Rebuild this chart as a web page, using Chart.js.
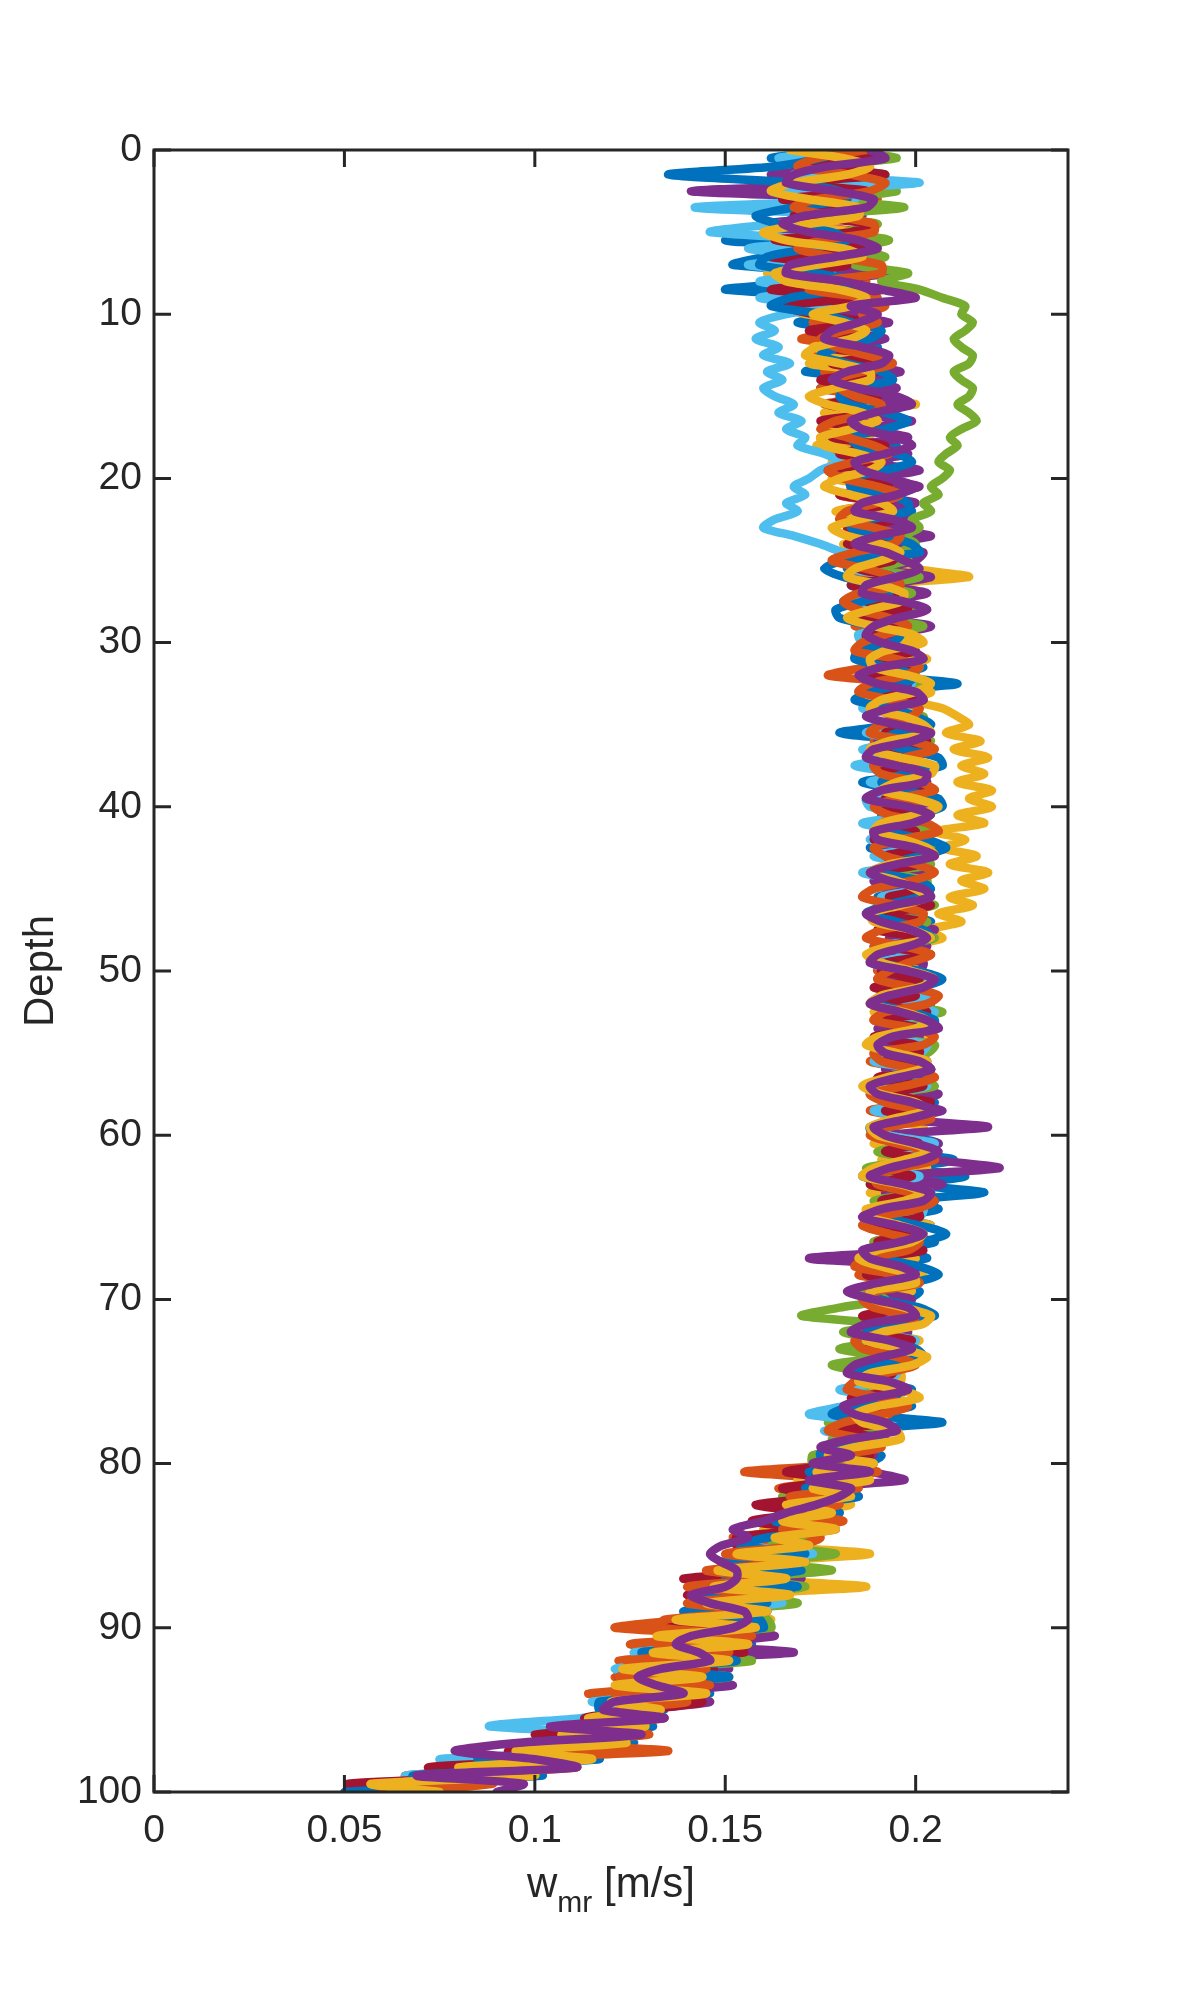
<!DOCTYPE html>
<html>
<head>
<meta charset="utf-8">
<script src="https://cdn.jsdelivr.net/npm/chart.js@4.4.1/dist/chart.umd.min.js"></script>
<style>
  html, body { margin: 0; padding: 0; background: #ffffff; }
  #wrap { width: 1181px; height: 2013px; }
</style>
</head>
<body>
<div id="wrap"><canvas id="myChart" width="1181" height="2013"></canvas></div>
<script>
// depth grid (index axis), 0 at the surface
var depth = [
  0,0.5,1,1.5,2,2.5,3,3.5,4,4.5,
  5,5.5,6,6.5,7,7.5,8,8.5,9,9.5,
  10,10.5,11,11.5,12,12.5,13,13.5,14,14.5,
  15,15.5,16,16.5,17,17.5,18,18.5,19,19.5,
  20,20.5,21,21.5,22,22.5,23,23.5,24,24.5,
  25,25.5,26,26.5,27,27.5,28,28.5,29,29.5,
  30,30.5,31,31.5,32,32.5,33,33.5,34,34.5,
  35,35.5,36,36.5,37,37.5,38,38.5,39,39.5,
  40,40.5,41,41.5,42,42.5,43,43.5,44,44.5,
  45,45.5,46,46.5,47,47.5,48,48.5,49,49.5,
  50,50.5,51,51.5,52,52.5,53,53.5,54,54.5,
  55,55.5,56,56.5,57,57.5,58,58.5,59,59.5,
  60,60.5,61,61.5,62,62.5,63,63.5,64,64.5,
  65,65.5,66,66.5,67,67.5,68,68.5,69,69.5,
  70,70.5,71,71.5,72,72.5,73,73.5,74,74.5,
  75,75.5,76,76.5,77,77.5,78,78.5,79,79.5,
  80,80.5,81,81.5,82,82.5,83,83.5,84,84.5,
  85,85.5,86,86.5,87,87.5,88,88.5,89,89.5,
  90,90.5,91,91.5,92,92.5,93,93.5,94,94.5,
  95,95.5,96,96.5,97,97.5,98,98.5,99,99.5,
  100
];

// w_mr [m/s] for each run
var wBlue1 = [
  0.181,0.162,0.187,0.166,0.185,0.158,0.182,0.162,0.185,0.159,
  0.177,0.150,0.180,0.161,0.152,0.181,0.172,0.150,0.184,0.163,
  0.185,0.169,0.184,0.172,0.190,0.175,0.184,0.171,0.191,0.175,
  0.192,0.180,0.191,0.176,0.191,0.180,0.195,0.184,0.193,0.179,
  0.195,0.183,0.193,0.186,0.199,0.185,0.195,0.184,0.198,0.188,
  0.190,0.182,0.194,0.183,0.190,0.181,0.193,0.184,0.196,0.186,
  0.187,0.199,0.191,0.202,0.192,0.211,0.192,0.201,0.189,0.200,
  0.194,0.180,0.197,0.187,0.199,0.188,0.198,0.186,0.197,0.188,
  0.200,0.191,0.202,0.190,0.198,0.188,0.199,0.192,0.203,0.190,
  0.201,0.190,0.202,0.194,0.204,0.192,0.200,0.189,0.202,0.193,
  0.194,0.203,0.192,0.204,0.196,0.206,0.195,0.204,0.192,0.202,
  0.202,0.193,0.204,0.190,0.201,0.192,0.205,0.194,0.201,0.190,
  0.197,0.206,0.198,0.210,0.199,0.213,0.200,0.218,0.197,0.206,
  0.194,0.204,0.194,0.205,0.195,0.203,0.190,0.201,0.193,0.201,
  0.198,0.189,0.200,0.187,0.196,0.185,0.196,0.188,0.198,0.186,
  0.189,0.199,0.189,0.199,0.187,0.207,0.183,0.192,0.184,0.191,
  0.187,0.174,0.186,0.169,0.184,0.168,0.178,0.161,0.173,0.159,
  0.170,0.151,0.171,0.152,0.166,0.143,0.161,0.143,0.161,0.141,
  0.159,0.136,0.157,0.129,0.149,0.124,0.148,0.125,0.146,0.118,
  0.134,0.117,0.131,0.108,0.126,0.097,0.117,0.079,0.102,0.053,
  0.066
];
var wOrange1 = [
  0.190,0.168,0.186,0.169,0.193,0.171,0.190,0.164,0.184,0.167,
  0.185,0.165,0.188,0.168,0.184,0.163,0.187,0.173,0.190,0.169,
  0.188,0.173,0.186,0.170,0.185,0.173,0.191,0.176,0.191,0.175,
  0.187,0.176,0.190,0.177,0.192,0.175,0.188,0.178,0.192,0.181,
  0.181,0.193,0.180,0.190,0.180,0.193,0.184,0.195,0.182,0.192,
  0.184,0.194,0.183,0.195,0.186,0.198,0.186,0.194,0.184,0.197,
  0.193,0.185,0.195,0.187,0.177,0.197,0.186,0.198,0.187,0.196,
  0.190,0.200,0.189,0.201,0.192,0.203,0.192,0.201,0.194,0.202,
  0.194,0.203,0.191,0.202,0.193,0.206,0.195,0.203,0.191,0.202,
  0.201,0.191,0.200,0.189,0.203,0.192,0.201,0.189,0.200,0.191,
  0.190,0.201,0.192,0.204,0.193,0.202,0.189,0.201,0.192,0.204,
  0.200,0.188,0.199,0.190,0.203,0.191,0.200,0.188,0.199,0.190,
  0.192,0.204,0.193,0.202,0.190,0.200,0.191,0.204,0.192,0.201,
  0.200,0.188,0.198,0.189,0.201,0.190,0.198,0.185,0.197,0.187,
  0.189,0.199,0.187,0.197,0.189,0.200,0.187,0.197,0.185,0.195,
  0.193,0.183,0.195,0.184,0.193,0.179,0.191,0.180,0.190,0.173,
  0.182,0.155,0.181,0.164,0.178,0.163,0.175,0.158,0.170,0.152,
  0.171,0.152,0.170,0.147,0.163,0.142,0.162,0.142,0.160,0.140,
  0.121,0.153,0.125,0.151,0.122,0.146,0.121,0.144,0.114,0.138,
  0.122,0.130,0.110,0.126,0.101,0.135,0.090,0.106,0.066,0.084,
  0.055
];
var wYellow1 = [
  0.187,0.165,0.188,0.167,0.184,0.161,0.187,0.163,0.184,0.165,
  0.183,0.163,0.182,0.162,0.184,0.161,0.181,0.166,0.186,0.165,
  0.171,0.187,0.174,0.189,0.173,0.185,0.172,0.188,0.177,0.191,
  0.188,0.200,0.176,0.189,0.176,0.188,0.174,0.192,0.178,0.189,
  0.178,0.191,0.181,0.192,0.179,0.190,0.183,0.195,0.181,0.191,
  0.188,0.199,0.214,0.190,0.199,0.188,0.199,0.190,0.202,0.192,
  0.200,0.191,0.203,0.191,0.200,0.189,0.204,0.199,0.207,0.211,
  0.214,0.208,0.217,0.210,0.219,0.212,0.218,0.211,0.220,0.214,
  0.220,0.211,0.218,0.205,0.213,0.207,0.216,0.209,0.219,0.212,
  0.218,0.209,0.215,0.206,0.212,0.203,0.207,0.198,0.204,0.195,
  0.201,0.192,0.203,0.191,0.200,0.189,0.201,0.193,0.203,0.191,
  0.192,0.202,0.193,0.204,0.190,0.201,0.192,0.204,0.193,0.202,
  0.201,0.189,0.200,0.191,0.203,0.191,0.200,0.188,0.199,0.190,
  0.192,0.204,0.192,0.201,0.189,0.200,0.190,0.202,0.191,0.199,
  0.191,0.200,0.188,0.198,0.189,0.201,0.189,0.198,0.186,0.196,
  0.196,0.186,0.196,0.183,0.192,0.180,0.192,0.181,0.191,0.176,
  0.174,0.187,0.169,0.182,0.168,0.183,0.167,0.178,0.160,0.174,
  0.165,0.188,0.160,0.172,0.157,0.187,0.153,0.166,0.149,0.162,
  0.137,0.159,0.136,0.157,0.130,0.149,0.124,0.148,0.125,0.146,
  0.120,0.131,0.111,0.126,0.102,0.120,0.089,0.108,0.071,0.087,
  0.068
];
var wPurple1 = [
  0.189,0.165,0.186,0.162,0.191,0.141,0.187,0.163,0.186,0.160,
  0.167,0.187,0.166,0.190,0.170,0.193,0.173,0.192,0.170,0.191,
  0.177,0.193,0.180,0.192,0.177,0.191,0.180,0.196,0.183,0.195,
  0.184,0.197,0.183,0.199,0.187,0.198,0.184,0.198,0.187,0.201,
  0.189,0.201,0.188,0.200,0.188,0.199,0.189,0.204,0.192,0.202,
  0.200,0.191,0.204,0.192,0.203,0.190,0.201,0.192,0.204,0.194,
  0.188,0.197,0.187,0.199,0.190,0.201,0.190,0.199,0.188,0.200,
  0.192,0.202,0.190,0.201,0.192,0.204,0.194,0.203,0.191,0.202,
  0.203,0.192,0.201,0.189,0.200,0.191,0.204,0.192,0.201,0.189,
  0.193,0.203,0.191,0.202,0.194,0.205,0.193,0.203,0.191,0.202,
  0.201,0.190,0.202,0.192,0.204,0.193,0.202,0.190,0.201,0.192,
  0.194,0.203,0.192,0.204,0.195,0.206,0.194,0.207,0.196,0.219,
  0.193,0.206,0.194,0.205,0.222,0.195,0.207,0.192,0.205,0.193,
  0.201,0.191,0.202,0.191,0.199,0.172,0.201,0.189,0.199,0.188,
  0.199,0.189,0.201,0.189,0.198,0.186,0.197,0.188,0.199,0.186,
  0.184,0.196,0.185,0.196,0.182,0.191,0.179,0.191,0.180,0.189,
  0.175,0.188,0.197,0.173,0.185,0.168,0.180,0.167,0.179,0.161,
  0.172,0.153,0.171,0.152,0.170,0.147,0.163,0.141,0.161,0.141,
  0.139,0.163,0.138,0.168,0.130,0.151,0.128,0.152,0.127,0.146,
  0.129,0.118,0.127,0.104,0.121,0.101,0.110,0.086,0.096,0.062,
  0.074
];
var wGreen = [
  0.179,0.195,0.174,0.192,0.176,0.195,0.177,0.197,0.174,0.190,
  0.182,0.193,0.181,0.192,0.184,0.198,0.191,0.201,0.207,0.213,
  0.212,0.215,0.213,0.210,0.212,0.215,0.214,0.210,0.212,0.215,
  0.214,0.211,0.214,0.216,0.212,0.209,0.211,0.208,0.206,0.209,
  0.207,0.204,0.206,0.202,0.204,0.199,0.201,0.197,0.200,0.196,
  0.198,0.189,0.201,0.190,0.199,0.188,0.200,0.191,0.202,0.191,
  0.190,0.199,0.189,0.201,0.192,0.203,0.192,0.201,0.190,0.202,
  0.201,0.193,0.204,0.192,0.201,0.190,0.203,0.194,0.205,0.193,
  0.194,0.204,0.192,0.203,0.194,0.206,0.195,0.204,0.192,0.203,
  0.202,0.193,0.205,0.191,0.203,0.194,0.205,0.193,0.202,0.191,
  0.195,0.204,0.193,0.205,0.196,0.207,0.195,0.204,0.193,0.205,
  0.203,0.191,0.202,0.193,0.205,0.194,0.203,0.191,0.202,0.193,
  0.189,0.201,0.190,0.199,0.187,0.197,0.188,0.200,0.189,0.198,
  0.199,0.189,0.200,0.189,0.198,0.186,0.196,0.187,0.199,0.186,
  0.192,0.180,0.170,0.191,0.181,0.193,0.180,0.190,0.178,0.189,
  0.193,0.181,0.193,0.182,0.191,0.177,0.189,0.178,0.188,0.173,
  0.173,0.188,0.172,0.183,0.165,0.178,0.164,0.179,0.163,0.173,
  0.162,0.179,0.161,0.178,0.154,0.171,0.151,0.169,0.149,0.161,
  0.162,0.134,0.155,0.132,0.157,0.132,0.151,0.123,0.144,0.121,
  0.120,0.131,0.112,0.127,0.102,0.121,0.089,0.108,0.070,0.085,
  0.052
];
var wLightBlue = [
  0.186,0.164,0.187,0.168,0.201,0.164,0.184,0.142,0.185,0.164,
  0.146,0.176,0.156,0.176,0.156,0.178,0.159,0.177,0.159,0.177,
  0.166,0.159,0.163,0.158,0.164,0.160,0.167,0.161,0.165,0.160,
  0.163,0.168,0.164,0.170,0.166,0.171,0.169,0.176,0.180,0.175,
  0.172,0.168,0.171,0.166,0.169,0.163,0.160,0.168,0.175,0.181,
  0.192,0.183,0.195,0.184,0.193,0.182,0.194,0.185,0.196,0.185,
  0.186,0.195,0.185,0.197,0.188,0.199,0.188,0.197,0.186,0.198,
  0.195,0.187,0.198,0.186,0.195,0.184,0.197,0.188,0.199,0.187,
  0.188,0.198,0.186,0.197,0.188,0.200,0.189,0.198,0.186,0.197,
  0.200,0.191,0.203,0.189,0.201,0.192,0.203,0.191,0.200,0.189,
  0.193,0.202,0.191,0.203,0.194,0.205,0.193,0.202,0.191,0.203,
  0.201,0.189,0.200,0.191,0.203,0.192,0.201,0.189,0.200,0.191,
  0.193,0.205,0.194,0.203,0.191,0.201,0.192,0.204,0.193,0.202,
  0.201,0.191,0.202,0.191,0.200,0.188,0.198,0.189,0.201,0.188,
  0.189,0.199,0.187,0.197,0.188,0.200,0.188,0.197,0.185,0.195,
  0.192,0.180,0.192,0.181,0.172,0.190,0.176,0.188,0.176,0.184,
  0.185,0.168,0.180,0.167,0.181,0.166,0.176,0.159,0.171,0.157,
  0.156,0.173,0.151,0.168,0.146,0.167,0.147,0.165,0.141,0.157,
  0.156,0.133,0.154,0.126,0.146,0.121,0.145,0.122,0.143,0.115,
  0.131,0.112,0.088,0.124,0.098,0.117,0.075,0.104,0.066,0.085,
  0.055
];
var wDarkRed = [
  0.171,0.191,0.172,0.192,0.168,0.187,0.165,0.185,0.168,0.188,
  0.183,0.163,0.186,0.162,0.182,0.167,0.185,0.162,0.184,0.165,
  0.173,0.187,0.172,0.186,0.175,0.191,0.178,0.190,0.175,0.189,
  0.190,0.177,0.189,0.175,0.189,0.178,0.192,0.180,0.191,0.177,
  0.182,0.193,0.180,0.193,0.184,0.195,0.182,0.193,0.182,0.195,
  0.194,0.185,0.194,0.183,0.195,0.187,0.198,0.186,0.195,0.187,
  0.188,0.200,0.190,0.199,0.187,0.198,0.190,0.202,0.191,0.200,
  0.200,0.192,0.203,0.191,0.200,0.189,0.202,0.193,0.204,0.192,
  0.192,0.203,0.191,0.200,0.189,0.201,0.192,0.201,0.189,0.200,
  0.202,0.193,0.204,0.192,0.201,0.190,0.202,0.193,0.204,0.192,
  0.191,0.201,0.189,0.200,0.191,0.203,0.192,0.201,0.189,0.200,
  0.201,0.192,0.204,0.190,0.202,0.193,0.204,0.192,0.201,0.190,
  0.191,0.201,0.192,0.203,0.191,0.199,0.188,0.200,0.191,0.200,
  0.201,0.189,0.199,0.190,0.202,0.191,0.199,0.187,0.198,0.188,
  0.188,0.198,0.186,0.196,0.187,0.199,0.187,0.196,0.184,0.194,
  0.186,0.197,0.183,0.195,0.181,0.191,0.180,0.192,0.180,0.188,
  0.181,0.166,0.180,0.165,0.175,0.158,0.170,0.157,0.171,0.153,
  0.153,0.170,0.152,0.169,0.139,0.162,0.140,0.160,0.140,0.158,
  0.135,0.157,0.134,0.155,0.128,0.147,0.122,0.146,0.123,0.144,
  0.128,0.113,0.124,0.100,0.119,0.093,0.106,0.072,0.095,0.051,
  0.058
];
var wBlue2 = [
  0.181,0.175,0.163,0.135,0.168,0.180,0.182,0.168,0.158,0.164,
  0.178,0.182,0.172,0.161,0.159,0.174,0.183,0.180,0.167,0.162,
  0.176,0.183,0.191,0.188,0.180,0.175,0.182,0.191,0.194,0.184,
  0.180,0.183,0.192,0.198,0.192,0.183,0.185,0.195,0.199,0.192,
  0.183,0.183,0.193,0.198,0.198,0.188,0.183,0.192,0.199,0.201,
  0.181,0.176,0.181,0.190,0.193,0.186,0.179,0.180,0.189,0.196,
  0.194,0.185,0.184,0.193,0.200,0.197,0.188,0.184,0.194,0.200,
  0.204,0.195,0.191,0.197,0.206,0.207,0.197,0.191,0.197,0.206,
  0.207,0.200,0.192,0.193,0.203,0.208,0.201,0.193,0.191,0.201,
  0.204,0.201,0.192,0.187,0.195,0.202,0.204,0.194,0.188,0.191,
  0.201,0.207,0.201,0.192,0.190,0.199,0.205,0.204,0.194,0.189,
  0.193,0.201,0.204,0.195,0.187,0.190,0.199,0.204,0.197,0.188,
  0.189,0.198,0.204,0.201,0.191,0.186,0.196,0.203,0.199,0.189,
  0.192,0.201,0.208,0.202,0.193,0.192,0.201,0.206,0.199,0.189,
  0.191,0.201,0.205,0.194,0.187,0.191,0.200,0.202,0.191,0.184,
  0.189,0.196,0.194,0.183,0.178,0.188,0.193,0.188,0.176,0.175,
  0.189,0.172,0.184,0.171,0.185,0.170,0.180,0.163,0.175,0.161,
  0.154,0.171,0.149,0.170,0.150,0.169,0.145,0.161,0.139,0.159,
  0.160,0.134,0.153,0.128,0.153,0.130,0.151,0.123,0.142,0.117,
  0.117,0.129,0.109,0.124,0.099,0.118,0.085,0.106,0.068,0.084,
  0.050
];
var wOrange2 = [
  0.187,0.174,0.169,0.183,0.192,0.188,0.174,0.168,0.178,0.189,
  0.189,0.175,0.169,0.178,0.191,0.191,0.175,0.172,0.187,0.192,
  0.186,0.190,0.181,0.175,0.179,0.187,0.194,0.186,0.179,0.180,
  0.184,0.191,0.189,0.179,0.175,0.182,0.189,0.193,0.184,0.177,
  0.181,0.190,0.196,0.190,0.182,0.180,0.189,0.196,0.194,0.184,
  0.178,0.187,0.194,0.196,0.185,0.181,0.185,0.193,0.198,0.192,
  0.186,0.184,0.195,0.201,0.197,0.188,0.185,0.194,0.201,0.199,
  0.191,0.188,0.199,0.205,0.197,0.189,0.191,0.201,0.205,0.195,
  0.189,0.193,0.203,0.206,0.196,0.189,0.192,0.200,0.205,0.199,
  0.189,0.186,0.195,0.202,0.201,0.191,0.187,0.197,0.204,0.198,
  0.193,0.190,0.199,0.206,0.203,0.192,0.189,0.200,0.205,0.202,
  0.189,0.191,0.200,0.205,0.197,0.188,0.192,0.201,0.204,0.193,
  0.188,0.195,0.203,0.205,0.196,0.189,0.190,0.199,0.205,0.200,
  0.190,0.186,0.193,0.201,0.198,0.187,0.184,0.195,0.201,0.190,
  0.186,0.189,0.198,0.200,0.192,0.184,0.186,0.195,0.200,0.192,
  0.184,0.182,0.191,0.198,0.191,0.181,0.177,0.186,0.191,0.180,
  0.175,0.190,0.174,0.185,0.167,0.180,0.166,0.181,0.165,0.175,
  0.169,0.150,0.168,0.145,0.161,0.140,0.160,0.140,0.158,0.134,
  0.133,0.157,0.132,0.151,0.124,0.145,0.122,0.146,0.121,0.140,
  0.122,0.134,0.114,0.130,0.105,0.123,0.092,0.111,0.075,0.089,
  0.060
];
var wYellow2 = [
  0.167,0.181,0.188,0.182,0.168,0.162,0.172,0.185,0.185,0.172,
  0.160,0.166,0.181,0.186,0.174,0.163,0.166,0.180,0.187,0.183,
  0.173,0.181,0.187,0.183,0.174,0.171,0.180,0.188,0.188,0.179,
  0.172,0.177,0.186,0.190,0.183,0.175,0.176,0.185,0.191,0.188,
  0.180,0.176,0.183,0.191,0.194,0.185,0.178,0.182,0.191,0.196,
  0.191,0.184,0.182,0.191,0.197,0.196,0.188,0.182,0.189,0.199,
  0.202,0.192,0.188,0.189,0.198,0.204,0.200,0.191,0.188,0.197,
  0.202,0.204,0.193,0.188,0.196,0.205,0.204,0.195,0.191,0.200,
  0.206,0.200,0.191,0.189,0.197,0.203,0.205,0.193,0.188,0.195,
  0.200,0.203,0.196,0.188,0.189,0.199,0.204,0.193,0.187,0.191,
  0.199,0.205,0.201,0.191,0.188,0.197,0.203,0.200,0.190,0.187,
  0.195,0.203,0.201,0.192,0.186,0.191,0.200,0.203,0.194,0.188,
  0.190,0.199,0.204,0.197,0.189,0.186,0.196,0.202,0.197,0.187,
  0.188,0.196,0.202,0.199,0.190,0.185,0.191,0.199,0.200,0.188,
  0.189,0.197,0.204,0.202,0.191,0.187,0.196,0.203,0.199,0.188,
  0.185,0.196,0.201,0.190,0.184,0.186,0.195,0.196,0.184,0.177,
  0.189,0.174,0.188,0.173,0.183,0.166,0.178,0.165,0.179,0.163,
  0.172,0.153,0.171,0.148,0.166,0.147,0.167,0.145,0.161,0.137,
  0.158,0.132,0.156,0.131,0.151,0.123,0.144,0.121,0.145,0.120,
  0.133,0.114,0.129,0.107,0.124,0.095,0.115,0.080,0.100,0.057,
  0.075
];
var wPurple2 = [
  0.188,0.192,0.177,0.168,0.166,0.179,0.189,0.187,0.171,0.165,
  0.172,0.185,0.190,0.179,0.167,0.166,0.181,0.191,0.200,0.183,
  0.190,0.185,0.178,0.176,0.186,0.193,0.191,0.182,0.178,0.185,
  0.195,0.199,0.189,0.183,0.186,0.195,0.199,0.192,0.184,0.186,
  0.193,0.200,0.195,0.186,0.184,0.194,0.199,0.190,0.184,0.192,
  0.197,0.201,0.195,0.187,0.186,0.197,0.203,0.195,0.189,0.187,
  0.191,0.199,0.202,0.191,0.185,0.190,0.200,0.202,0.193,0.187,
  0.195,0.204,0.199,0.189,0.187,0.195,0.203,0.202,0.191,0.187,
  0.198,0.204,0.199,0.189,0.190,0.200,0.205,0.195,0.188,0.193,
  0.202,0.204,0.194,0.187,0.191,0.199,0.203,0.198,0.190,0.188,
  0.198,0.205,0.202,0.193,0.188,0.196,0.203,0.206,0.194,0.190,
  0.192,0.201,0.204,0.195,0.188,0.190,0.199,0.205,0.198,0.189,
  0.192,0.200,0.206,0.202,0.193,0.188,0.197,0.204,0.202,0.191,
  0.186,0.195,0.202,0.196,0.186,0.188,0.196,0.200,0.190,0.182,
  0.189,0.198,0.200,0.187,0.183,0.193,0.199,0.191,0.184,0.182,
  0.193,0.198,0.188,0.181,0.184,0.192,0.195,0.183,0.175,0.183,
  0.173,0.188,0.172,0.183,0.180,0.174,0.166,0.160,0.152,0.156,
  0.149,0.146,0.149,0.153,0.153,0.150,0.141,0.146,0.155,0.156,
  0.152,0.141,0.137,0.143,0.146,0.133,0.127,0.132,0.139,0.121,
  0.118,0.134,0.104,0.128,0.096,0.079,0.100,0.111,0.069,0.097,
  0.090
];

// plotting order (first = bottom layer) and MATLAB default colour cycle
var seriesList = [wBlue1, wOrange1, wYellow1, wPurple1, wGreen, wLightBlue, wDarkRed, wBlue2, wOrange2, wYellow2, wPurple2];
var seriesColors = ['#0072BD', '#D95319', '#EDB120', '#7E2F8E', '#77AC30', '#4DBEEE', '#A2142F', '#0072BD', '#D95319', '#EDB120', '#7E2F8E'];

var xTicks = [0, 0.05, 0.1, 0.15, 0.2];
var yTicks = [0, 10, 20, 30, 40, 50, 60, 70, 80, 90, 100];

var axisColor = '#262626';
var fontFamily = '"Liberation Sans", Arial, Helvetica, sans-serif';
Chart.defaults.font.family = fontFamily;
Chart.defaults.color = axisColor;

// box, inward ticks on all four sides, and the x label with its subscript
var matlabAxes = {
  id: 'matlabAxes',
  afterDatasetsDraw: function (chart) {
    var ctx = chart.ctx;
    var a = chart.chartArea;
    var xs = chart.scales.x;
    var ys = chart.scales.y;
    var tl = 17;
    ctx.save();
    ctx.strokeStyle = axisColor;
    ctx.lineWidth = 3;
    ctx.beginPath();
    xTicks.forEach(function (v) {
      var px = xs.getPixelForValue(v);
      ctx.moveTo(px, a.bottom); ctx.lineTo(px, a.bottom - tl);
      ctx.moveTo(px, a.top); ctx.lineTo(px, a.top + tl);
    });
    yTicks.forEach(function (v) {
      var py = ys.getPixelForValue(v);
      ctx.moveTo(a.left, py); ctx.lineTo(a.left + tl, py);
      ctx.moveTo(a.right, py); ctx.lineTo(a.right - tl, py);
    });
    ctx.stroke();
    ctx.lineJoin = 'miter';
    ctx.strokeRect(a.left, a.top, a.right - a.left, a.bottom - a.top);

    var big = '42px ' + fontFamily;
    var small = '30px ' + fontFamily;
    ctx.fillStyle = axisColor;
    ctx.textBaseline = 'alphabetic';
    ctx.textAlign = 'left';
    ctx.font = big;
    var w1 = ctx.measureText('w').width;
    var w3 = ctx.measureText(' [m/s]').width;
    ctx.font = small;
    var w2 = ctx.measureText('mr').width;
    var x0 = (a.left + a.right) / 2 - (w1 + w2 + w3) / 2;
    var base = a.bottom + 105;
    ctx.font = big;
    ctx.fillText('w', x0, base);
    ctx.font = small;
    ctx.fillText('mr', x0 + w1, base + 15);
    ctx.font = big;
    ctx.fillText(' [m/s]', x0 + w1 + w2, base);
    ctx.restore();
  }
};

// Chart.js paints lower "order" last, so the last run ends up on top
var datasets = seriesList.map(function (vals, i) {
  return {
    label: 'run ' + (i + 1),
    data: vals.map(function (v, j) { return { x: v, y: depth[j] }; }),
    order: seriesList.length - 1 - i,
    borderColor: seriesColors[i],
    backgroundColor: seriesColors[i],
    borderWidth: 8.5,
    pointRadius: 0,
    fill: false,
    tension: 0.25,
    borderJoinStyle: 'round',
    borderCapStyle: 'round'
  };
});

var chart = new Chart(document.getElementById('myChart').getContext('2d'), {
  type: 'line',
  data: { datasets: datasets },
  options: {
    indexAxis: 'y',
    responsive: false,
    animation: false,
    devicePixelRatio: 1,
    layout: { padding: { top: 150, right: 113, left: 0, bottom: 0 } },
    plugins: { legend: { display: false }, tooltip: { enabled: false } },
    scales: {
      x: {
        type: 'linear',
        position: 'bottom',
        min: 0,
        max: 0.24,
        afterBuildTicks: function (scale) {
          scale.ticks = xTicks.map(function (v) { return { value: v }; });
        },
        afterFit: function (scale) { scale.height = 221; },
        grid: { display: false, drawTicks: false },
        border: { display: false },
        ticks: {
          autoSkip: false,
          maxRotation: 0,
          padding: 16,
          font: { size: 39 },
          color: axisColor,
          callback: function (v) { return String(v); }
        }
      },
      y: {
        type: 'linear',
        position: 'left',
        reverse: true,
        min: 0,
        max: 100,
        afterBuildTicks: function (scale) {
          scale.ticks = yTicks.map(function (v) { return { value: v }; });
        },
        afterFit: function (scale) { scale.width = 154; },
        grid: { display: false, drawTicks: false },
        border: { display: false },
        ticks: {
          autoSkip: false,
          padding: 12,
          font: { size: 39 },
          color: axisColor,
          callback: function (v) { return String(v); }
        },
        title: {
          display: true,
          text: 'Depth',
          color: axisColor,
          font: { size: 42 },
          padding: { top: 16, bottom: 0 }
        }
      }
    }
  },
  plugins: [matlabAxes]
});
</script>
</body>
</html>
